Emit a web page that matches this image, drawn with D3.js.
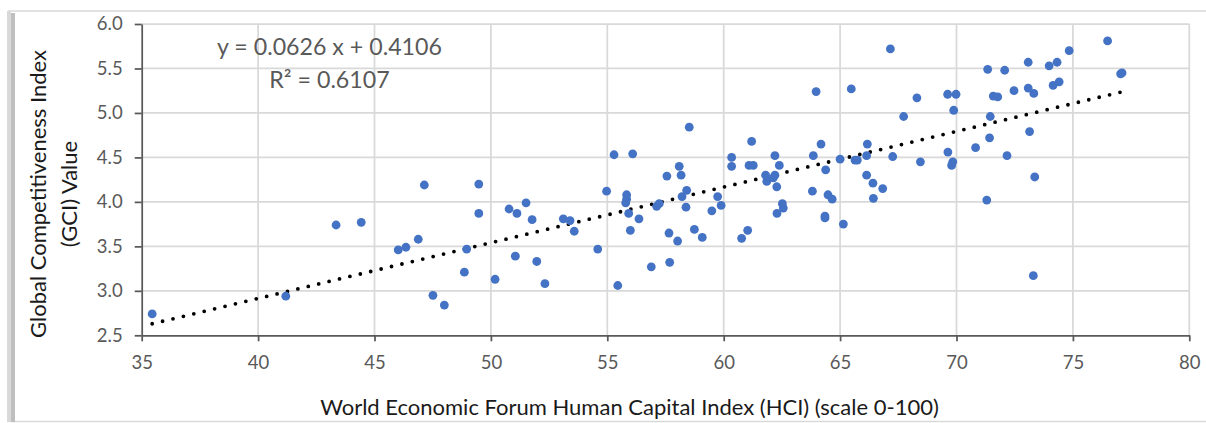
<!DOCTYPE html>
<html>
<head>
<meta charset="utf-8">
<script src="https://cdn.jsdelivr.net/npm/d3@7"></script>
<style>
  html, body { margin: 0; padding: 0; background: #fff; }
  .chart text { font-family: Lato, 'Open Sans', sans-serif; }
  .axis path, .axis line { stroke: #595959; stroke-width: 1.75; }
  .axis text { fill: #595959; font-size: 18.5px; }
  .grid line { stroke: #d9d9d9; stroke-width: 1.75; }
  .title { fill: #1a1a1a; font-size: 22px; }
  .equation { fill: #595959; font-size: 23.2px; }
</style>
</head>
<body>
<div id="chart"></div>
<script>
// HCI (x) and GCI (y) per country
const hciValues = [
  35.45, 41.19, 43.35, 44.43, 46.02, 46.35, 46.88, 47.14, 49.48, 49.48,
  48.96, 48.86, 47.51, 48.00, 50.18, 50.78, 51.12, 51.51, 51.77, 51.05,
  51.97, 52.32, 53.11, 53.40, 53.58, 54.59, 54.97, 55.45, 55.83, 55.83,
  55.79, 55.92, 55.99, 56.36, 56.89, 57.12, 57.23, 57.65, 57.68, 58.02,
  58.21, 58.38, 58.41, 58.74, 59.08, 59.49, 59.74, 59.89, 60.77, 61.03,
  61.85, 62.28, 62.29, 62.52, 62.56, 63.81, 63.97, 58.52, 55.29, 56.09,
  61.20, 60.34, 60.34, 58.09, 58.17, 57.56, 61.09, 61.27, 62.20, 62.39,
  61.80, 62.20, 62.13, 63.85, 64.18, 76.49, 74.84, 73.08, 73.98, 74.32,
  71.34, 72.07, 67.16, 77.11, 77.05, 65.48, 68.30, 69.62, 69.98, 69.88,
  71.58, 71.77, 72.47, 73.08, 73.32, 74.15, 74.41, 67.73, 71.45, 71.42,
  70.82, 73.14, 72.17, 73.36, 69.63, 69.84, 69.79, 68.45, 67.26, 66.17,
  66.14, 65.64, 65.74, 65.00, 64.38, 66.14, 66.41, 66.83, 66.43, 64.48,
  64.66, 71.30, 64.35, 64.35, 65.14, 73.30,
];

const gciValues = [
  2.74, 2.94, 3.74, 3.77, 3.46, 3.49, 3.58, 4.19, 4.20, 3.87,
  3.47, 3.21, 2.95, 2.84, 3.13, 3.92, 3.87, 3.99, 3.80, 3.39,
  3.33, 3.08, 3.81, 3.79, 3.67, 3.47, 4.12, 3.06, 4.08, 4.03,
  3.99, 3.87, 3.68, 3.81, 3.27, 3.95, 3.98, 3.65, 3.32, 3.56,
  4.06, 3.94, 4.13, 3.69, 3.60, 3.90, 4.06, 3.96, 3.59, 3.68,
  4.23, 4.17, 3.87, 3.98, 3.93, 4.12, 5.24, 4.84, 4.53, 4.54,
  4.68, 4.50, 4.40, 4.40, 4.30, 4.29, 4.41, 4.41, 4.52, 4.41,
  4.30, 4.30, 4.27, 4.52, 4.65, 5.81, 5.70, 5.57, 5.53, 5.57,
  5.49, 5.48, 5.72, 5.45, 5.44, 5.27, 5.17, 5.21, 5.21, 5.03,
  5.19, 5.18, 5.25, 5.28, 5.22, 5.31, 5.35, 4.96, 4.96, 4.72,
  4.61, 4.79, 4.52, 4.28, 4.56, 4.45, 4.41, 4.45, 4.51, 4.65,
  4.52, 4.47, 4.47, 4.48, 4.36, 4.30, 4.21, 4.15, 4.04, 4.08,
  4.03, 4.02, 3.84, 3.82, 3.75, 3.17,
];

const xTicks = [35, 40, 45, 50, 55, 60, 65, 70, 75, 80];
const yTicks = [2.5, 3.0, 3.5, 4.0, 4.5, 5.0, 5.5, 6.0];

// linear trendline reported in the chart
const trendSlope = 0.0626;
const trendIntercept = 0.4106;
const equationLines = ['y = 0.0626 x + 0.4106', 'R\u00b2 = 0.6107'];

const xTitle = 'World Economic Forum Human Capital Index (HCI) (scale 0-100)';
const yTitleLines = ['Global Competitiveness Index', '(GCI) Value'];

class Chart {
  constructor(target) {
    this.container = target;

    this.setDimensions();
    this.drawScene();
  }

  draw() {
    this.points = hciValues.map((x, i) => [x, gciValues[i]]);

    this.setScales();
    this.drawFrame();
    this.drawGrid();
    this.drawAxes();
    this.drawTrendline();
    this.drawPoints();
    this.drawLabels();
  }

  setDimensions() {
    this.dimensions = { width: 1206, height: 423 };
    this.plot = { left: 141.7, right: 1189.3, top: 24, bottom: 335.3 };
  }

  setScales() {
    this.xScale = d3.scaleLinear()
      .domain([35, 80])
      .range([this.plot.left, this.plot.right]);

    this.yScale = d3.scaleLinear()
      .domain([2.5, 6])
      .range([this.plot.bottom, this.plot.top]);
  }

  drawScene() {
    this.scene = d3.select(this.container)
      .append('svg')
      .attr('width', this.dimensions.width)
      .attr('height', this.dimensions.height)
      .attr('class', 'chart');
  }

  drawFrame() {
    const frame = this.scene.append('g').attr('class', 'frame');

    frame.append('line')
      .attr('x1', 8).attr('x2', this.dimensions.width)
      .attr('y1', 11).attr('y2', 11)
      .attr('stroke', '#d9d9d9').attr('stroke-width', 1.5);

    frame.append('line')
      .attr('x1', 8).attr('x2', this.dimensions.width)
      .attr('y1', 421.5).attr('y2', 421.5)
      .attr('stroke', '#d9d9d9').attr('stroke-width', 1.5);

    frame.append('rect')
      .attr('x', 7).attr('y', 11).attr('width', 4).attr('height', 411)
      .attr('fill', '#d9d9d9');

    frame.append('rect')
      .attr('x', 11).attr('y', 13).attr('width', 4).attr('height', 409)
      .attr('fill', '#bfbfbf');
  }

  drawGrid() {
    const grid = this.scene.append('g').attr('class', 'grid');

    grid.selectAll('.grid-h')
      .data(yTicks.slice(1))
      .join('line')
      .attr('class', 'grid-h')
      .attr('x1', this.plot.left)
      .attr('x2', this.plot.right)
      .attr('y1', d => this.yScale(d))
      .attr('y2', d => this.yScale(d));

    grid.selectAll('.grid-v')
      .data(xTicks.slice(1))
      .join('line')
      .attr('class', 'grid-v')
      .attr('x1', d => this.xScale(d))
      .attr('x2', d => this.xScale(d))
      .attr('y1', this.plot.top)
      .attr('y2', this.plot.bottom);
  }

  drawAxes() {
    const left = d3.axisLeft(this.yScale)
      .tickValues(yTicks)
      .tickFormat(d3.format('.1f'))
      .tickSizeInner(7)
      .tickSizeOuter(0)
      .tickPadding(12);

    const bottom = d3.axisBottom(this.xScale)
      .tickValues(xTicks)
      .tickFormat(d3.format('d'))
      .tickSizeInner(6)
      .tickSizeOuter(0)
      .tickPadding(15);

    this.scene.append('g')
      .attr('class', 'axis axis-left')
      .attr('transform', `translate(${this.plot.left}, 0)`)
      .call(left);

    this.scene.append('g')
      .attr('class', 'axis axis-bottom')
      .attr('transform', `translate(0, ${this.plot.bottom})`)
      .call(bottom);

    this.scene.selectAll('.axis').attr('font-family', null).attr('font-size', null);
  }

  drawTrendline() {
    const [x0, x1] = d3.extent(hciValues);
    const trend = [x0, x1].map(x => [x, trendSlope * x + trendIntercept]);

    const line = d3.line()
      .x(d => this.xScale(d[0]))
      .y(d => this.yScale(d[1]));

    this.scene.append('path')
      .datum(trend)
      .attr('class', 'trendline')
      .attr('d', line)
      .attr('fill', 'none')
      .attr('stroke', '#000')
      .attr('stroke-width', 3.8)
      .attr('stroke-linecap', 'round')
      .attr('stroke-dasharray', '0 10.7');
  }

  drawPoints() {
    this.scene.append('g')
      .attr('class', 'points')
      .selectAll('circle')
      .data(this.points)
      .join('circle')
      .attr('cx', d => this.xScale(d[0]))
      .attr('cy', d => this.yScale(d[1]))
      .attr('r', 4.4)
      .attr('fill', '#4472c4');
  }

  drawLabels() {
    this.scene.append('g')
      .attr('class', 'equation')
      .selectAll('text')
      .data(equationLines)
      .join('text')
      .attr('x', 329.5)
      .attr('y', (d, i) => 55 + i * 33)
      .attr('text-anchor', 'middle')
      .text(d => d);

    this.scene.append('text')
      .attr('class', 'title')
      .attr('x', 629.5)
      .attr('y', 415)
      .attr('text-anchor', 'middle')
      .text(xTitle);

    this.scene.append('g')
      .attr('class', 'title')
      .selectAll('text')
      .data(yTitleLines)
      .join('text')
      .attr('transform', (d, i) => `translate(${46 + i * 31}, 194) rotate(-90)`)
      .attr('text-anchor', 'middle')
      .text(d => d);
  }
}

const chart = new Chart('#chart');
chart.draw();
</script>
</body>
</html>
